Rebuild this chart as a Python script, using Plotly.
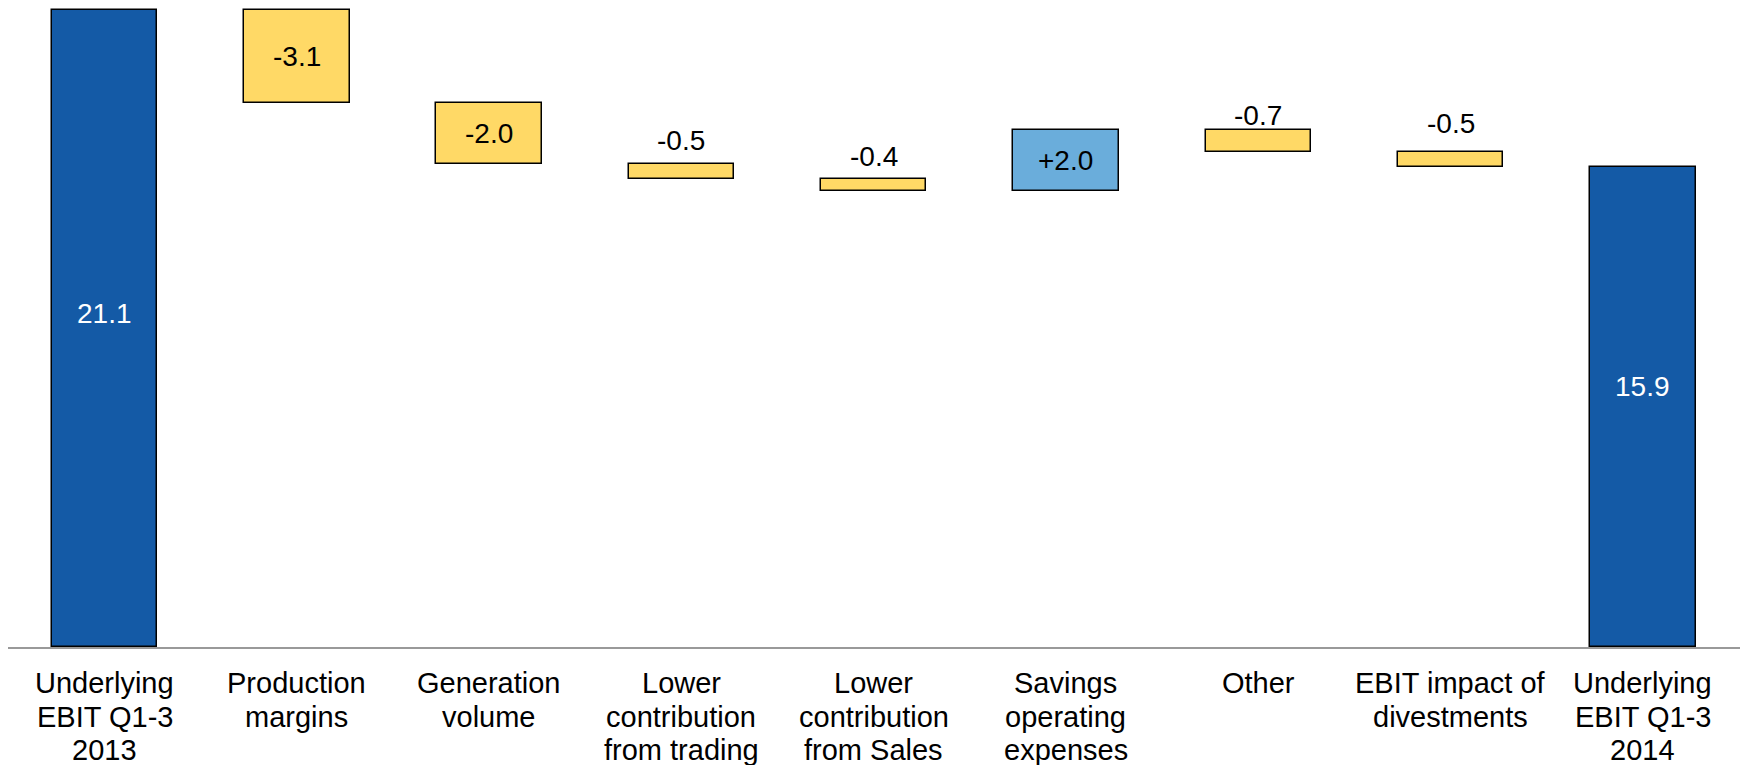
import plotly.graph_objects as go

# EBIT bridge, Q1-3 2013 -> Q1-3 2014
categories = [
    "Underlying<br>EBIT Q1-3<br>2013",
    "Production<br>margins",
    "Generation<br>volume",
    "Lower<br>contribution<br>from trading",
    "Lower<br>contribution<br>from Sales",
    "Savings<br>operating<br>expenses",
    "Other",
    "EBIT impact of<br>divestments",
    "Underlying<br>EBIT Q1-3<br>2014",
]
values = [21.1, -3.1, -2.0, -0.5, -0.4, 2.0, -0.7, -0.5, 15.9]
kinds = ["total", "delta", "delta", "delta", "delta", "delta", "delta", "delta", "total"]
value_labels = ["21.1", "-3.1", "-2.0", "-0.5", "-0.4", "+2.0", "-0.7", "-0.5", "15.9"]

# per-label vertical nudge in pixels
label_nudge = [15, 0, 0, 6, 5, 0, -3, 11, 20]

DARK_BLUE = "#145AA6"
LIGHT_BLUE = "#6AADDB"
YELLOW = "#FFD966"
FONT = "Liberation Sans, Arial, sans-serif"

# floating bar geometry from the running total
bases, heights, colors = [], [], []
running = 0.0
for v, k in zip(values, kinds):
    if k == "total":
        bases.append(0.0)
        heights.append(v)
        colors.append(DARK_BLUE)
        running = v
    else:
        new = running + v
        bases.append(min(running, new))
        heights.append(abs(v))
        colors.append(LIGHT_BLUE if v > 0 else YELLOW)
        running = new

x = list(range(len(categories)))

fig = go.Figure()
fig.add_trace(go.Bar(
    x=x,
    y=heights,
    base=bases,
    width=0.549,
    marker=dict(color=colors, line=dict(color="#000000", width=1.5)),
    hoverinfo="skip",
    showlegend=False,
))

annotations = []
# value labels: inside the tall bars, above the thin ones
for i, (b, h, k, lab, dy) in enumerate(zip(bases, heights, kinds, value_labels, label_nudge)):
    if k == "total":
        annotations.append(dict(x=i, y=b + h / 2, text=lab, showarrow=False, yshift=dy,
                                font=dict(color="#FFFFFF", size=28), xanchor="center", yanchor="middle"))
    elif h >= 1.5:
        annotations.append(dict(x=i, y=b + h / 2, text=lab, showarrow=False, yshift=dy,
                                font=dict(color="#000000", size=28), xanchor="center", yanchor="middle"))
    else:
        annotations.append(dict(x=i, y=b + h, text=lab, showarrow=False, yshift=dy,
                                font=dict(color="#000000", size=28), xanchor="center", yanchor="bottom"))

# category labels, one line per annotation for tighter line spacing
LINE_GAP = 33.3
for i, cat in enumerate(categories):
    for j, line in enumerate(cat.split("<br>")):
        annotations.append(dict(
            x=i, xref="x", y=0, yref="paper", text=line, showarrow=False,
            xanchor="center", yanchor="middle", yshift=-(36.3 + j * LINE_GAP),
            font=dict(color="#000000", size=29, family=FONT),
        ))

fig.update_layout(
    width=1740,
    height=765,
    margin=dict(l=8, r=0, t=0, b=118),
    paper_bgcolor="#FFFFFF",
    plot_bgcolor="#FFFFFF",
    font=dict(family=FONT, color="#000000", size=28),
    annotations=annotations,
    bargap=0,
    xaxis=dict(
        range=[-0.5018, 8.505],
        tickvals=x,
        showticklabels=False,
        showline=True,
        linecolor="#999999",
        linewidth=2,
        showgrid=False,
        zeroline=False,
        ticks="",
        fixedrange=True,
    ),
    yaxis=dict(
        range=[0, 21.42],
        visible=False,
        showgrid=False,
        zeroline=False,
        fixedrange=True,
    ),
)

fig.write_html("out.html")
